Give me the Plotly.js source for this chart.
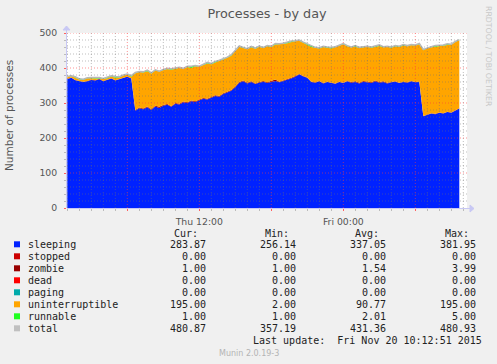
<!DOCTYPE html>
<html>
<head>
<meta charset="utf-8">
<script src="https://cdn.plot.ly/plotly-3.0.1.min.js"></script>
<style>
html,body{margin:0;padding:0;background:#f0f0f0;}
#chart{width:497px;height:364px;}
</style>
</head>
<body>
<div id="chart"></div>
<script>
// ---------- data (20-minute samples, Thu 19 Nov 2015 01:00 -> Fri 20 Nov 09:40) ----------
const startTime = '2015-11-19 01:00';
const stepMinutes = 20;

const sleeping = [
  368,372,365,363,360,362,366,364,368,362,366,370,364,368,372,375,370,
  278,285,282,288,280,290,286,292,295,289,298,296,302,300,305,303,308,312,310,316,320,318,326,330,335,345,
  358,362,356,360,354,358,361,357,360,363,359,362,366,370,375,382,376,372,
  360,358,362,356,360,358,355,360,357,362,358,360,356,361,359,357,362,358,360,356,
  359,361,357,360,358,362,359,360,
  262,266,270,268,272,270,274,272,278,284
];
const uninterruptible = [
  5,4,6,3,5,8,4,5,2,6,4,5,7,4,6,5,4,
  105,102,103,101,102,101,101,100,100,104,99,103,93,101,93,100,94,95,101,93,95,101,96,97,98,102,
  101,93,96,97,99,101,94,104,97,100,106,105,103,103,100,95,95,93,
  99,99,93,103,97,97,104,103,110,99,99,99,99,96,100,99,96,103,97,103,
  98,100,102,103,103,103,104,107,
  188,190,188,192,190,193,192,194,195,195
];
const zombie = [
  1,1,1,1,1,1,1,1,1,1,1,1,1,1,1,1,1,
  2,2,2,2,2,2,3,2,2,2,2,2,2,2,2,2,2,2,2,2,2,2,2,2,2,2,
  2,2,2,2,2,2,2,2,3,4,2,2,2,2,2,1,1,1,1,1,1,1,1,1,1,1,1,1,2,2,2,2,2,2,2,2,2,2,1,1,1,1,1,1,1,1,
  1,1,1,1,1,1,1,1,1,1
];
const runnable = [
  2,1,3,2,2,1,2,3,2,1,2,2,4,2,1,2,3,
  2,1,2,3,2,2,1,2,2,3,2,1,2,2,5,2,1,2,3,2,2,1,2,2,3,2,
  2,2,1,3,2,2,2,1,2,3,2,2,4,2,1,2,2,3,2,1,2,2,2,3,1,2,2,2,1,3,2,2,1,2,2,3,2,1,2,2,2,3,2,1,2,2,
  2,1,2,3,1,2,2,1,2,1
];
const stopped = sleeping.map(() => 0);
const dead = sleeping.map(() => 0);
const paging = sleeping.map(() => 0);

// legend table (as printed by munin)
const legendNames  = ['sleeping','stopped','zombie','dead','paging','uninterruptible','runnable','total'];
const legendColors = ['#0022ff','#cc0000','#990000','#ff0000','#00aaaa','#ffa500','#22ff22','#c0c0c0'];
const curVals = ['283.87','0.00','1.00','0.00','0.00','195.00','1.00','480.87'];
const minVals = ['256.14','0.00','1.00','0.00','0.00','2.00','1.00','357.19'];
const avgVals = ['337.05','0.00','1.54','0.00','0.00','90.77','2.01','431.36'];
const maxVals = ['381.95','0.00','3.99','0.00','0.00','195.00','5.00','480.93'];

const xTickVals = ['2015-11-19 06:00','2015-11-19 12:00','2015-11-19 18:00','2015-11-20 00:00','2015-11-20 06:00'];
const xTickText = ['','Thu 12:00','','Fri 00:00',''];
const yTickVals = [0,100,200,300,400,500];

// ---------- helpers ----------
function pad(n){return (n<10?'0':'')+n;}
function fmt(d){return d.getUTCFullYear()+'-'+pad(d.getUTCMonth()+1)+'-'+pad(d.getUTCDate())+' '+pad(d.getUTCHours())+':'+pad(d.getUTCMinutes());}
const t0 = Date.UTC(2015,10,19,1,0);
const times = sleeping.map((_, i) => fmt(new Date(t0 + i*stepMinutes*60000)));
const total = sleeping.map((v,i) => v + stopped[i] + zombie[i] + dead[i] + paging[i] + uninterruptible[i] + runnable[i]);

const L = 67, R = 467, T = 33, B = 208, W = 497, H = 364;
const px = p => (p - L) / (R - L);
const py = p => (B - p) / (B - T);

// ---------- traces ----------
const stackSeries = [
  ['sleeping', sleeping, legendColors[0]],
  ['stopped', stopped, legendColors[1]],
  ['zombie', zombie, legendColors[2]],
  ['dead', dead, legendColors[3]],
  ['paging', paging, legendColors[4]],
  ['uninterruptible', uninterruptible, legendColors[5]],
  ['runnable', runnable, legendColors[6]]
];
const traces = stackSeries.map(([name, vals, col]) => ({
  type: 'scatter', mode: 'lines', name: name, x: times, y: vals,
  stackgroup: 'one', line: {width: 0, shape: 'linear', color: col}, fillcolor: col
}));
traces.push({
  type: 'scatter', mode: 'lines', name: 'total', x: times, y: total,
  line: {width: 1.5, shape: 'linear', color: '#b8b8b8'}
});

// ---------- grid (drawn above data like rrdtool) ----------
const shapes = [];
const gridMinor = 'rgba(110,110,110,0.45)';
const gridMajor = 'rgba(255,60,60,0.55)';
for (let h = 1; h <= 34; h++) {
  const d = new Date(Date.UTC(2015,10,19,0,0) + h*3600000);
  const major = d.getUTCHours() % 6 === 0;
  shapes.push({type:'line', layer:'above', xref:'x', yref:'paper', x0: fmt(d), x1: fmt(d), y0: 0, y1: 1,
    line:{color: major ? gridMajor : gridMinor, width:1, dash:'1px,2px'}});
}
for (let v = 20; v <= 500; v += 20) {
  const major = v % 100 === 0;
  shapes.push({type:'line', layer:'above', xref:'paper', yref:'y', x0: 0, x1: 1, y0: v, y1: v,
    line:{color: major ? gridMajor : gridMinor, width:1, dash:'1px,2px'}});
}
// axis lines with arrows
const axisCol = '#c8c8f4';
shapes.push({type:'line', layer:'above', xref:'paper', yref:'paper', x0: px(L), x1: px(472), y0: py(B+0.5), y1: py(B+0.5), line:{color:axisCol, width:1}});
shapes.push({type:'line', layer:'above', xref:'paper', yref:'paper', x0: px(L-0.5), x1: px(L-0.5), y0: py(B), y1: py(28), line:{color:axisCol, width:1}});
shapes.push({type:'path', layer:'above', xref:'paper', yref:'paper',
  path: 'M '+px(470)+' '+py(B-3)+' L '+px(474)+' '+py(B+0.5)+' L '+px(470)+' '+py(B+4)+' Z',
  fillcolor: axisCol, line:{color:axisCol, width:1}});
shapes.push({type:'path', layer:'above', xref:'paper', yref:'paper',
  path: 'M '+px(L-4)+' '+py(30)+' L '+px(L-0.5)+' '+py(26)+' L '+px(L+3)+' '+py(30)+' Z',
  fillcolor: axisCol, line:{color:axisCol, width:1}});

// legend squares
const rowY0 = 244.3, rowStep = 12;
legendNames.forEach((n, r) => {
  const yc = rowY0 + r*rowStep;
  shapes.push({type:'rect', xref:'paper', yref:'paper', x0: px(14), x1: px(20), y0: py(yc+3), y1: py(yc-3),
    fillcolor: legendColors[r], line:{width:0}});
});

// ---------- annotations ----------
const mono = {family:'DejaVu Sans Mono, monospace', size:10, color:'#222'};
const ann = [];
function txt(text, x, y, xanchor, font, extra) {
  ann.push(Object.assign({text: text, xref:'paper', yref:'paper', x: px(x), y: py(y),
    xanchor: xanchor, yanchor:'middle', showarrow:false, font: font, borderpad:0}, extra||{}));
}
txt('Cur:', 198.5, 233.3, 'right', mono);
txt('Min:', 289.5, 233.3, 'right', mono);
txt('Avg:', 379.5, 233.3, 'right', mono);
txt('Max:', 469.5, 233.3, 'right', mono);
legendNames.forEach((n, r) => {
  const yc = rowY0 + r*rowStep;
  txt(n, 26.5, yc, 'left', mono);
  txt(curVals[r], 206.5, yc, 'right', mono);
  txt(minVals[r], 297, yc, 'right', mono);
  txt(avgVals[r], 387, yc, 'right', mono);
  txt(maxVals[r], 477, yc, 'right', mono);
});
txt('Last update:  Fri Nov 20 10:12:51 2015', 483, 340.3, 'right', mono);
txt('Munin 2.0.19-3', 249, 353.3, 'center', {family:'DejaVu Sans, sans-serif', size:8, color:'#b4b4b4'});
txt('RRDTOOL / TOBI OETIKER', 488.5, 56.5, 'center', {family:'DejaVu Sans, sans-serif', size:7.8, color:'#c8c8c8'}, {textangle: 90});
txt('Number of processes', 9, 116, 'center', {family:'DejaVu Sans, sans-serif', size:10.5, color:'#555'}, {textangle: -90});

const layout = {
  width: W, height: H,
  margin: {l: L, r: W - R, t: T, b: H - B, pad: 0},
  paper_bgcolor: '#f0f0f0', plot_bgcolor: '#ffffff',
  showlegend: false, hovermode: false,
  title: {text: 'Processes - by day', x: 0.5, xref: 'paper', xanchor: 'center', y: 1 - 13.5/H, yanchor: 'middle',
          font: {family: 'DejaVu Sans, sans-serif', size: 12.8, color: '#555'}},
  xaxis: {
    type: 'date', range: ['2015-11-19 00:58:30', '2015-11-20 10:18:30'],
    tickmode: 'array', tickvals: xTickVals, ticktext: xTickText,
    ticks: 'outside', ticklen: 2, tickcolor: '#ff6060', tickwidth: 1,
    minor: {tickmode: 'linear', tick0: '2015-11-19 00:00', dtick: 3600000, ticks: 'outside', ticklen: 2, tickcolor: '#bbbbbb', showgrid: false},
    showgrid: false, zeroline: false, showline: false,
    tickfont: {family: 'DejaVu Sans, sans-serif', size: 9.3, color: '#555'},
    ticklabelstandoff: 3, fixedrange: true
  },
  yaxis: {
    range: [0, 500], tickmode: 'array', tickvals: yTickVals,
    ticks: 'outside', ticklen: 2, tickcolor: '#ff6060', tickwidth: 1,
    minor: {tickmode: 'linear', tick0: 0, dtick: 20, ticks: 'outside', ticklen: 2, tickcolor: '#bbbbbb', showgrid: false},
    showgrid: false, zeroline: false, showline: false,
    tickfont: {family: 'DejaVu Sans, sans-serif', size: 9.3, color: '#555'},
    ticklabelstandoff: 5, fixedrange: true
  },
  shapes: shapes,
  annotations: ann
};

Plotly.newPlot('chart', traces, layout, {staticPlot: true, displayModeBar: false});
</script>
</body>
</html>
